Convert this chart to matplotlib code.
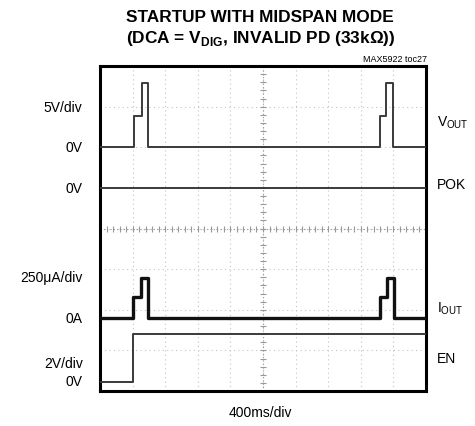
import numpy as np
import matplotlib
matplotlib.use("Agg")
import matplotlib.pyplot as plt

plt.rcParams['font.family'] = ['Liberation Sans', 'DejaVu Sans']
plt.rcParams['mathtext.fontset'] = 'custom'
plt.rcParams['mathtext.rm'] = 'Liberation Sans'
plt.rcParams['mathtext.bf'] = 'Liberation Sans:bold'

# traces, in scope divisions (x: 0..10, y: 0..8)
vout_t = [0, 1.05, 1.28, 1.48, 8.59, 8.78, 9.0, 10]
vout_v = [6.0, 6.77, 7.59, 6.0, 6.77, 7.59, 6.0, 6.0]
pok_t = [0, 10]
pok_v = [5.0, 5.0]
iout_t = [0, 1.02, 1.27, 1.48, 8.58, 8.79, 9.02, 10]
iout_v = [1.80, 2.32, 2.79, 1.80, 2.32, 2.79, 1.80, 1.80]
en_t = [0, 1.01, 10]
en_v = [0.22, 1.40, 1.40]

left_labels = ['5V/div', '0V', '0V', '250μA/div', '0A', '2V/div', '0V']
left_pos = [7.0, 6.0, 5.0, 2.8, 1.8, 0.7, 0.25]
right_labels = [r'V$_{\mathrm{OUT}}$', 'POK', r'I$_{\mathrm{OUT}}$', 'EN']
right_pos = [6.63, 5.1, 2.05, 0.8]

fig = plt.figure(figsize=(4.75, 4.27), dpi=100)
ax = fig.add_axes([100 / 475, 35 / 427, 326 / 475, 325 / 427])
ax.set_xlim(0, 10)
ax.set_ylim(0, 8)
ax.set_xticks([])
ax.set_yticks([])
for s in ax.spines.values():
    s.set_linewidth(2.2)

# graticule
for gx in range(1, 10):
    ax.axvline(gx, color='#c4c4c4', lw=0.8, ls=(0, (1, 3)), zorder=1)
for gy in range(1, 8):
    ax.axhline(gy, color='#c4c4c4', lw=0.8, ls=(0, (1, 3)), zorder=1)
ax.axvline(5, color='#999999', lw=0.8, ls=(0, (1, 2)), zorder=1)
ax.axhline(4, color='#999999', lw=0.8, ls=(0, (1, 2)), zorder=1)
mt = np.arange(0.2, 10, 0.2)
ax.plot(mt, np.full_like(mt, 4), ls='none', marker='|', ms=4, color='#999999', mew=0.8)
my = np.arange(0.2, 8, 0.2)
ax.plot(np.full_like(my, 5), my, ls='none', marker='_', ms=4, color='#999999', mew=0.8)

ax.plot(vout_t, vout_v, drawstyle='steps-post', color='#3a3a3a', lw=1.4, zorder=3)
ax.plot(pok_t, pok_v, drawstyle='steps-post', color='#3a3a3a', lw=1.4, zorder=3)
ax.plot(iout_t, iout_v, drawstyle='steps-post', color='#111111', lw=2.4, zorder=3)
ax.plot(en_t, en_v, drawstyle='steps-post', color='#3a3a3a', lw=1.4, zorder=3)

for lab, p in zip(left_labels, left_pos):
    ax.annotate(lab, xy=(0, p), xycoords='data', xytext=(-12.5, 0), textcoords='offset points',
                ha='right', va='center', fontsize=10)
for lab, p in zip(right_labels, right_pos):
    ax.annotate(lab, xy=(10, p), xycoords='data', xytext=(8, 0), textcoords='offset points',
                ha='left', va='center', fontsize=10)

fig.text(260 / 475, 1 - 18 / 427, 'STARTUP WITH MIDSPAN MODE', ha='center', va='center',
         fontsize=12.4, fontweight='bold')
fig.text(261 / 475, 1 - 39 / 427, r'(DCA = V$_{\mathbf{DIG}}$, INVALID PD (33kΩ))', ha='center',
         va='center', fontsize=12.4, fontweight='bold')
fig.text(427 / 475, 1 - 60 / 427, 'MAX5922 toc27', ha='right', va='center', fontsize=6.5)
fig.text(260 / 475, 1 - 413 / 427, '400ms/div', ha='center', va='center', fontsize=10)

fig.savefig('out.png', dpi=100)
